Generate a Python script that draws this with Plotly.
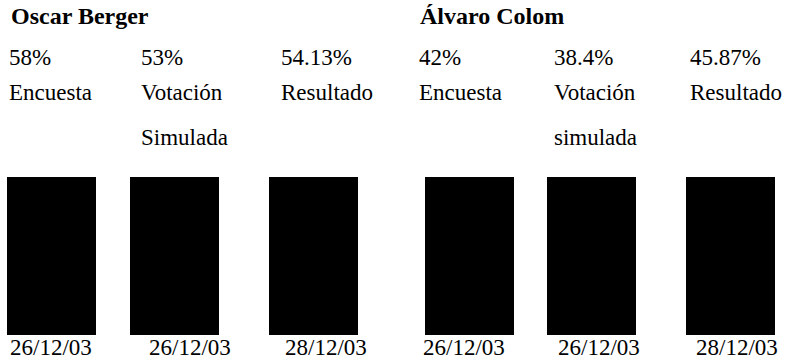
import plotly.graph_objects as go

# --- data ---------------------------------------------------------------
candidates = ["Oscar Berger", "Álvaro Colom"]
berger_values = [58, 53, 54.13]
colom_values = [42, 38.4, 45.87]
berger_labels = ["Encuesta", "Votación\nSimulada", "Resultado"]
colom_labels = ["Encuesta", "Votación\nsimulada", "Resultado"]
berger_dates = ["26/12/03", "26/12/03", "28/12/03"]
colom_dates = ["26/12/03", "26/12/03", "28/12/03"]
# every column is drawn as a full-height black panel
berger_panels = [1, 1, 1]
colom_panels = [1, 1, 1]

# --- layout constants (pixels in a 789 x 360 page) ----------------------
W, H = 789, 360
FONT = "Liberation Serif, Times New Roman, serif"
FS = 23
BAR_W = 89
BAR_TOP, BAR_BOTTOM = 177, 335
bar_left = [[7, 130, 269], [425, 547, 686]]
text_left = [[7, 139, 279], [417, 552, 688]]
name_left = [9, 418]
date_left = [[8, 147, 283], [421, 556, 694]]
Y_NAME, Y_PCT, Y_LAB1, Y_LAB2, Y_DATE = 16, 57, 93, 137, 347

groups = [
    (candidates[0], berger_values, berger_labels, berger_dates, berger_panels),
    (candidates[1], colom_values, colom_labels, colom_dates, colom_panels),
]


def px(x):
    return x / W


def py(y):
    return 1 - y / H


fig = go.Figure()
annotations = []


def label(text, x, y, bold=False, size=FS):
    annotations.append(dict(
        text=f"<b>{text}</b>" if bold else text,
        x=px(x), y=py(y), xref="paper", yref="paper",
        xanchor="left", yanchor="middle", showarrow=False,
        font=dict(family=FONT, size=size, color="#000000"),
    ))


for g, (name, values, labels, dates, panels) in enumerate(groups):
    centers = [left + BAR_W / 2 for left in bar_left[g]]
    fig.add_trace(go.Bar(
        x=centers, y=panels, width=BAR_W,
        marker=dict(color="#000000", line=dict(width=0)),
        hoverinfo="skip", showlegend=False,
    ))
    label(name, name_left[g], Y_NAME, bold=True, size=FS + 1)
    for i, v in enumerate(values):
        label(f"{v:g}%", text_left[g][i], Y_PCT)
        lines = labels[i].split("\n")
        label(lines[0], text_left[g][i], Y_LAB1)
        if len(lines) > 1:
            label(lines[1], text_left[g][i], Y_LAB2)
        label(dates[i], date_left[g][i], Y_DATE)

fig.update_layout(
    width=W, height=H,
    margin=dict(l=0, r=0, t=0, b=0),
    paper_bgcolor="#ffffff", plot_bgcolor="#ffffff",
    annotations=annotations,
    bargap=0,
    xaxis=dict(range=[0, W], domain=[0, 1], visible=False, fixedrange=True),
    yaxis=dict(range=[0, 1], domain=[1 - BAR_BOTTOM / H, 1 - BAR_TOP / H],
               visible=False, fixedrange=True),
)

fig.write_html("out.html", config={"displayModeBar": False})
